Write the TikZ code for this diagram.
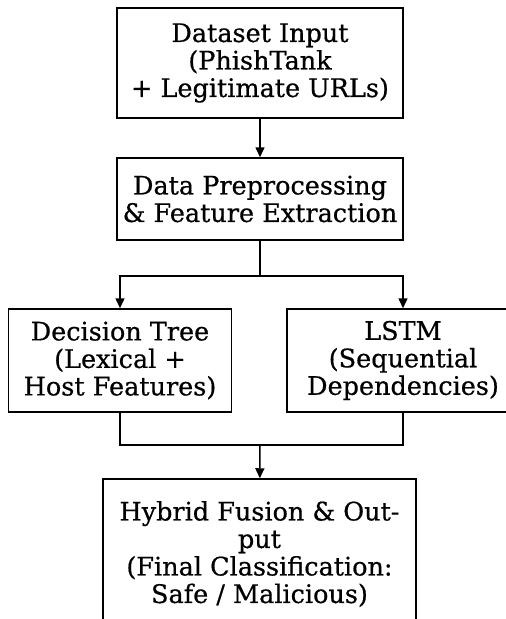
\documentclass[tikz,border=0pt]{standalone}
\usepackage{fontspec}
\setmainfont{DejaVu Serif}[FakeBold=0.6]
\usetikzlibrary{arrows.meta,positioning}

\begin{document}
\begin{tikzpicture}[
  x=1pt, y=-1pt,
  every node/.style={font=\fontsize{25.5}{27.5}\selectfont},
  box/.style={draw, line width=1.5pt, align=center, inner sep=0pt},
  wire/.style={line width=1.5pt},
  line/.style={-{Triangle[length=10pt,width=9pt]}, line width=1.5pt}
]
\useasboundingbox (0,0) rectangle (506,619);
\clip (0,0) rectangle (506,619);
\fill[white] (0,0) rectangle (506,619);
\node[box, minimum width=286pt, minimum height=110pt] (input) at (260,63) {Dataset Input\\(PhishTank\\+ Legitimate URLs)};
\node[box, minimum width=286pt, minimum height=82pt] (prep) at (260,199) {Data Preprocessing\\\& Feature Extraction};
\node[box, minimum width=223pt, minimum height=103pt] (dtree) at (120,360.5) {Decision Tree\\(Lexical +\\Host Features)};
\node[box, minimum width=232pt, minimum height=103pt] (lstm) at (403,360.5) {LSTM\\(Sequential\\Dependencies)};
\node[box, minimum width=313pt, minimum height=150pt] (fusion) at (259.5,554) {Hybrid Fusion \& Out-\\put\\(Final Classification:\\Safe / Malicious)};
\coordinate (split) at (260,276);
\coordinate (merge) at (260,445);
\draw[line] (input) -- (prep);
\draw[wire] (prep) -- (split);
\draw[line] (split) -| (dtree);
\draw[line] (split) -| (lstm);
\draw[wire] (dtree) |- (merge);
\draw[wire] (lstm) |- (merge);
\draw[line] (merge) -- (fusion);
\end{tikzpicture}
\end{document}
